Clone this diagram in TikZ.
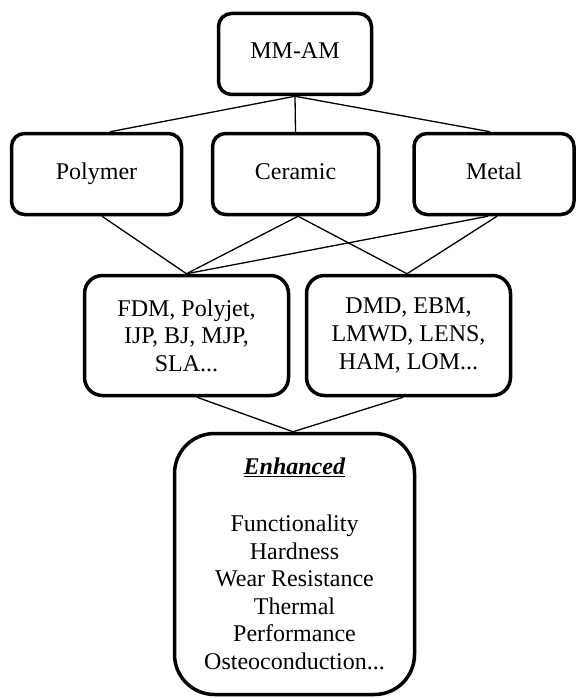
\documentclass[tikz,border=0pt]{standalone}
\usepackage{fontspec}
\setmainfont{Liberation Serif}
\begin{document}
\begin{tikzpicture}[x=1pt,y=-1pt,
  box/.style={draw, line width=3.5pt, rounded corners=13pt, align=center, inner sep=0pt,
    font=\fontsize{24}{27.6}\selectfont},
  onebox/.style={box, text height=15pt, text depth=5pt, minimum height=81},
  conn/.style={line width=1.3pt}]
\useasboundingbox (0,0) rectangle (577,698);
\node[onebox, minimum width=153] (mm) at (295,54) {MM-AM};
\node[onebox, minimum width=170] (poly) at (96.5,174) {Polymer};
\node[onebox, minimum width=166] (cer) at (295.5,174) {Ceramic};
\node[onebox, minimum width=160] (met) at (494,174) {Metal};
\node[box, rounded corners=18pt, minimum width=204, minimum height=120] (fdm) at (186.5,335.5) {FDM, Polyjet,\\IJP, BJ, MJP,\\SLA...};
\node[box, rounded corners=18pt, minimum width=204, minimum height=120] (dmd) at (408.5,335.5) {DMD, EBM,\\LMWD, LENS,\\HAM, LOM...};
\node[box, rounded corners=40pt, minimum width=240, minimum height=261] (enh) at (294.5,564)
  {\underline{\textbf{\textit{Enhanced}}}\\[29pt]Functionality\\Hardness\\Wear Resistance\\Thermal\\Performance\\Osteoconduction...};
\draw[conn] (mm.south) -- ([xshift=13.5pt]poly.north);
\draw[conn] (mm.south) -- (cer.north);
\draw[conn] (mm.south) -- ([xshift=-4pt]met.north);
\draw[conn] ([xshift=5.5pt]poly.south) -- (fdm.north);
\draw[conn] ([xshift=2.5pt]cer.south) -- (fdm.north);
\draw[conn] ([xshift=2.5pt]cer.south) -- ([xshift=-1.5pt]dmd.north);
\draw[conn] ([xshift=-6pt]met.south) -- (fdm.north);
\draw[conn] ([xshift=3pt]met.south) -- ([xshift=-1.5pt]dmd.north);
\draw[conn] ([xshift=10.5pt]fdm.south) -- ([xshift=-1.5pt]enh.north);
\draw[conn] ([xshift=-5.5pt]dmd.south) -- ([xshift=-1.5pt]enh.north);
\end{tikzpicture}
\end{document}
